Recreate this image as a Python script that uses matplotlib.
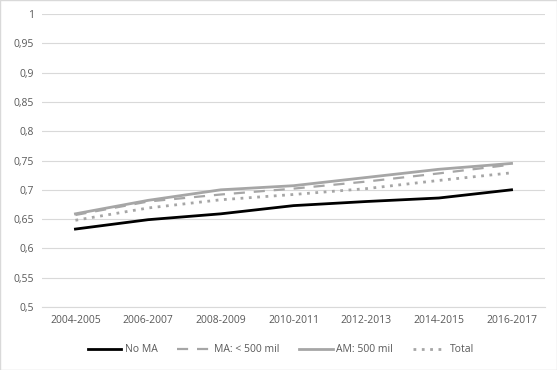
import matplotlib
matplotlib.use("Agg")
import matplotlib.pyplot as plt
import numpy as np

plt.rcParams['font.family'] = ['Open Sans', 'DejaVu Sans']

periods = ['2004-2005', '2006-2007', '2008-2009', '2010-2011',
           '2012-2013', '2014-2015', '2016-2017']
no_ma = [0.633, 0.649, 0.659, 0.673, 0.680, 0.686, 0.700]
ma_lt500 = [0.657, 0.680, 0.692, 0.702, 0.714, 0.728, 0.743]
am_500 = [0.659, 0.682, 0.700, 0.707, 0.721, 0.735, 0.745]
total = [0.648, 0.669, 0.683, 0.692, 0.702, 0.716, 0.729]

fig = plt.figure(figsize=(5.57, 3.70), dpi=100)
ax = fig.add_axes([42/557, 63/370, 503/557, 293/370])

x = np.arange(len(periods))
ax.plot(x, no_ma, color='black', lw=2, label='No MA')
ax.plot(x, ma_lt500, color='#a6a6a6', lw=1.6, ls=(0, (5, 4)), label='MA: < 500 mil')
ax.plot(x, am_500, color='#a6a6a6', lw=2, label='AM: 500 mil')
ax.plot(x, total, color='#a6a6a6', lw=2, ls=(0, (1, 2)), label='Total')

ax.set_xlim(-0.46, len(periods) - 0.54)
ax.set_ylim(0.5, 1.0)
yt = np.arange(0.5, 1.001, 0.05)
ax.set_yticks(yt)
ax.set_yticklabels([f'{v:.2f}'.rstrip('0').rstrip('.').replace('.', ',') for v in yt])
ax.set_xticks(x)
ax.set_xticklabels(periods)
ax.grid(axis='y', color='#d9d9d9', lw=0.8)
ax.set_axisbelow(True)
for s in ['top', 'right', 'left']:
    ax.spines[s].set_visible(False)
ax.spines['bottom'].set_color('#d9d9d9')
ax.tick_params(length=0, labelsize=7.5, labelcolor='#595959', pad=6)

fig.legend(loc='center', bbox_to_anchor=(281/557, 1 - 350/370), ncol=4, frameon=False,
           fontsize=7.5, labelcolor='#595959', handlelength=3.2, handletextpad=0.35,
           columnspacing=1.9)

fig.patches.append(plt.Rectangle((0, 0), 1, 1, transform=fig.transFigure,
                                 fill=False, edgecolor='#d9d9d9', lw=1))
fig.savefig('out.png', dpi=100)
